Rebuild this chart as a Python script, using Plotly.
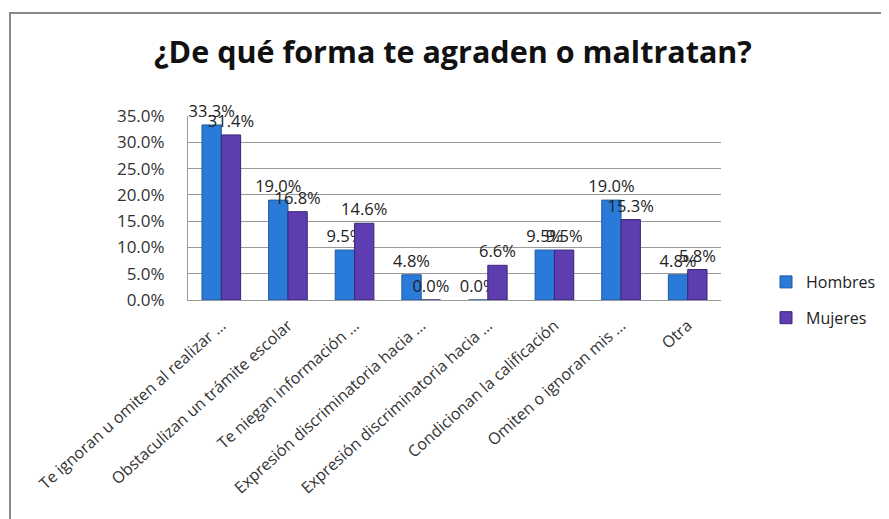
import plotly.graph_objects as go

categories = [
    "Te ignoran u omiten al realizar …",
    "Obstaculizan un trámite escolar",
    "Te niegan información …",
    "Expresión discriminatoria hacia …",
    "Expresión discriminatoria hacia …",
    "Condicionan la calificación",
    "Omiten o ignoran mis …",
    "Otra",
]
hombres = [33.3, 19.0, 9.5, 4.8, 0.0, 9.5, 19.0, 4.8]
mujeres = [31.4, 16.8, 14.6, 0.0, 6.6, 9.5, 15.3, 5.8]
y_ticks = [0, 5, 10, 15, 20, 25, 30, 35]
y_ticktext = [f"{v:.1f}%" for v in y_ticks]

xpos = list(range(len(categories)))
FONT = "Open Sans"

# page body has an 8px margin: figure coords = reference coords - 8
FW, FH = 881, 511
OFF = 8

fig = go.Figure()
fig.add_trace(go.Bar(
    x=xpos, y=hombres, name="Hombres",
    marker=dict(color="#2A7BD9", line=dict(color="#1C5A9E", width=1)),
    text=[f"{v:.1f}%" for v in hombres], textposition="outside",
    constraintext="none",
    textfont=dict(family=FONT, size=16.5, color="#222222"),
    cliponaxis=False, legendgroup="h",
))
fig.add_trace(go.Bar(
    x=xpos, y=mujeres, name="Mujeres",
    marker=dict(color="#5D3DB0", line=dict(color="#3A2578", width=1)),
    text=[f"{v:.1f}%" for v in mujeres], textposition="outside",
    constraintext="none",
    textfont=dict(family=FONT, size=16.5, color="#222222"),
    cliponaxis=False, legendgroup="m",
))

L, W, T = 188 - OFF, 533, 116 - OFF
PH = 184
B = FH - T - PH

def px_x(p):
    return (p - OFF - L) / W

def px_y(p):
    return (T + PH - (p - OFF)) / PH

fig.update_layout(
    width=FW, height=FH,
    margin=dict(l=L, r=FW - L - W, t=T, b=B, autoexpand=False),
    paper_bgcolor="white", plot_bgcolor="white",
    barmode="group", bargap=0.42, bargroupgap=0.0,
    title=dict(text="<b>¿De qué forma te agraden o maltratan?</b>",
               font=dict(family=FONT, size=30.5, color="#111111"),
               x=(453 - OFF) / FW, xanchor="center", y=1 - (52 - OFF) / FH, yanchor="middle"),
    xaxis=dict(tickmode="array", tickvals=xpos, ticktext=categories,
               tickangle=-42, tickfont=dict(family=FONT, size=16, color="#333333"),
               ticklabelstandoff=9,
               range=[-0.5, 7.5], showline=True, linecolor="#9a9a9a",
               showgrid=False, ticks=""),
    yaxis=dict(range=[0, 35], tickmode="array", tickvals=y_ticks, ticktext=y_ticktext,
               tickfont=dict(family=FONT, size=17, color="#333333"),
               ticklabelstandoff=19,
               showgrid=True, gridcolor="#9a9a9a", gridwidth=1.3,
               showline=True, linecolor="#9a9a9a", zeroline=False, ticks=""),
    legend=dict(x=px_x(766), y=px_y(265), xanchor="left", yanchor="top",
                font=dict(family=FONT, size=16, color="#222222"),
                tracegroupgap=12, itemwidth=30, bgcolor="rgba(0,0,0,0)"),
    shapes=[dict(type="rect", xref="paper", yref="paper",
                 x0=px_x(10), x1=px_x(900), y0=px_y(530), y1=px_y(13),
                 line=dict(color="#888888", width=2), fillcolor="rgba(0,0,0,0)",
                 layer="below")],
)

fig.write_html("out.html")
